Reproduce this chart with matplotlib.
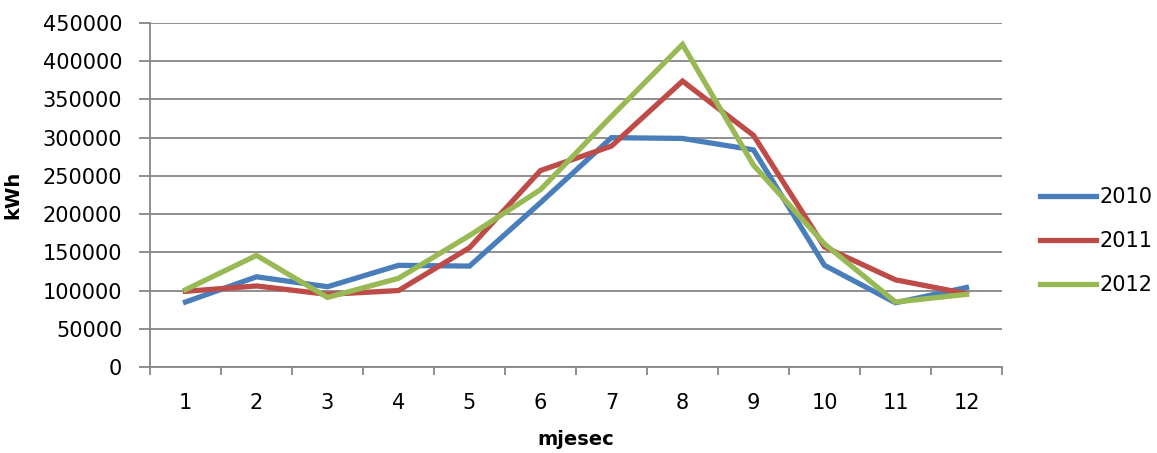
import numpy as np
import matplotlib
matplotlib.use('Agg')
import matplotlib.pyplot as plt

months = [1, 2, 3, 4, 5, 6, 7, 8, 9, 10, 11, 12]
kwh_2010 = [85000, 118000, 105000, 133000, 132000, 215000, 300000, 299000, 284000, 133000, 84000, 104000]
kwh_2011 = [99000, 106000, 95000, 100000, 156000, 257000, 289000, 374000, 303000, 157000, 114000, 96000]
kwh_2012 = [101000, 146000, 91000, 116000, 172000, 232000, 328000, 422000, 264000, 161000, 85000, 95000]
series_names = ['2010', '2011', '2012']
colors = ['#4a7ebb', '#be4b48', '#98b954']

plt.rcParams['font.family'] = ['DejaVu Sans']
fig = plt.figure(figsize=(11.57, 4.53), dpi=100)
ax = fig.add_axes([150 / 1157, 1 - 367 / 453, 852 / 1157, 344 / 453])

for vals, name, c in zip([kwh_2010, kwh_2011, kwh_2012], series_names, colors):
    ax.plot(months, vals, color=c, lw=3.8, label=name, solid_joinstyle='miter')

ax.set_xlim(0.5, 12.5)
ax.set_ylim(0, 450000)
ax.set_yticks(np.arange(0, 450001, 50000))
ax.set_yticklabels([str(v) for v in range(0, 450001, 50000)], fontsize=15)
ax.set_xticks(months)
ax.set_xticklabels([str(m) for m in months], fontsize=15)
ax.set_xticks(np.arange(0.5, 13, 1), minor=True)
ax.tick_params(axis='x', which='major', length=0, pad=18.5)
ax.tick_params(axis='x', which='minor', length=6, color='#868686', width=1.3)
ax.tick_params(axis='y', length=8, color='#868686', width=1.3, pad=12)
ax.grid(axis='y', color='#868686', lw=1.3)
ax.set_axisbelow(True)
for s in ['top', 'right']:
    ax.spines[s].set_visible(False)
for s in ['left', 'bottom']:
    ax.spines[s].set_color('#868686')
    ax.spines[s].set_linewidth(1.3)

ax.set_ylabel('kWh', fontsize=14, fontweight='bold')
ax.yaxis.set_label_coords(-0.150, 0.5)
ax.set_xlabel('mjesec', fontsize=14, fontweight='bold')
ax.xaxis.set_label_coords(0.5, -0.183)

ax.legend(loc='center left', bbox_to_anchor=(1.0446, 0.366), frameon=False,
          fontsize=15, handlelength=2.7, labelspacing=1.15, handletextpad=0.15,
          borderpad=0, borderaxespad=0)

fig.savefig('out.png', dpi=100)
